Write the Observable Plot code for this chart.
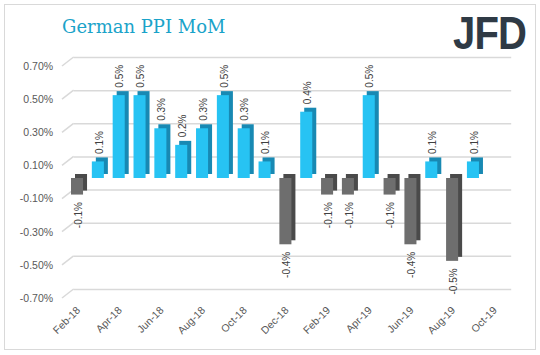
<!DOCTYPE html>
<html><head><meta charset="utf-8">
<script src="https://cdn.jsdelivr.net/npm/d3@7"></script>
<script src="https://cdn.jsdelivr.net/npm/@observablehq/plot@0.6"></script>
<style>
body{margin:0;background:#fff;}
#wrap{position:relative;width:540px;height:355px;overflow:hidden;font-family:"Liberation Sans",Arial,sans-serif;}
#frame{position:absolute;left:4px;top:4px;width:530px;height:344px;border:1px solid #d9d9d9;}
#title{position:absolute;left:62px;top:16px;font-family:"DejaVu Serif",serif;font-size:18px;color:#1aa3c9;white-space:nowrap;}
#logo{position:absolute;left:453px;top:6px;font-family:"Liberation Sans",Arial,sans-serif;font-weight:bold;font-size:46px;color:#2f3a45;transform:scaleX(0.87);transform-origin:left top;letter-spacing:-1px;}
#chart{position:absolute;left:0;top:0;}
</style></head>
<body>
<div id="wrap">
  <div id="frame"></div>
  <div id="title">German PPI MoM</div>
  <div id="logo">JFD</div>
  <div id="chart"></div>
</div>
<script>
const months = ["Feb-18","Mar-18","Apr-18","May-18","Jun-18","Jul-18","Aug-18","Sep-18","Oct-18","Nov-18","Dec-18",
  "Jan-19","Feb-19","Mar-19","Apr-19","May-19","Jun-19","Jul-19","Aug-19","Sep-19","Oct-19"];
const values = [-0.1,0.1,0.5,0.5,0.3,0.2,0.3,0.5,0.3,0.1,-0.4,0.4,-0.1,-0.1,0.5,-0.1,-0.4,0.1,-0.5,0.1,null];
const yTicks = [-0.7,-0.5,-0.3,-0.1,0.1,0.3,0.5,0.7];
const xTickLabels = months.filter((d, i) => i % 2 === 0);

const data = months.map((m, i) => ({month: m, value: values[i]})).filter(d => d.value != null);
const pos = data.filter(d => d.value > 0);
const neg = data.filter(d => d.value < 0);

const inL = 3.4, inR = 5.4;

function slants(index, scales) {
  const g = d3.create("svg:g").attr("stroke", "#d9d9d9").attr("stroke-width", 1.5);
  for (const t of yTicks) {
    const yy = scales.y(t);
    g.append("line").attr("x1", 62).attr("y1", yy + 4).attr("x2", 73.6).attr("y2", yy - 5);
  }
  return g.node();
}

const chart = Plot.plot({
  width: 540, height: 355,
  marginLeft: 67.6, marginRight: 34.8, marginTop: 62, marginBottom: 61,
  x: {domain: months, padding: 0, round: false, label: null},
  y: {domain: [-0.7, 0.7], label: null},
  style: {fontFamily: "'Liberation Sans', Arial, sans-serif", fontSize: "10.5px", color: "#595959", background: "transparent", overflow: "visible"},
  marks: [
    Plot.ruleY(yTicks, {stroke: "#d9d9d9", strokeWidth: 1.5, dx: 6, dy: -5}),
    slants,
    Plot.axisY(yTicks, {tickSize: 0, tickPadding: 15, dy: 4, tickFormat: d => d.toFixed(2) + "%", fontSize: 10.5, label: null}),
    Plot.axisX(xTickLabels, {tickSize: 0, tickPadding: 14, tickRotate: -45, fontSize: 10.5, label: null}),
    Plot.barY(pos, {x: "month", y: "value", fill: "#1889b3", dx: 4, dy: -4, insetLeft: inL, insetRight: inR}),
    Plot.barY(neg, {x: "month", y: "value", fill: "#4a4a4a", dx: 4, dy: -4, insetLeft: inL, insetRight: inR}),
    Plot.barY(pos, {x: "month", y: "value", fill: "#27c3f3", insetLeft: inL, insetRight: inR}),
    Plot.barY(neg, {x: "month", y: "value", fill: "#6e6e6e", insetLeft: inL, insetRight: inR}),
    Plot.text(pos, {x: "month", y: "value", text: d => d.value.toFixed(1) + "%", rotate: -90, textAnchor: "start", dy: -8, fontSize: 10, fill: "#404040"}),
    Plot.text(neg, {x: "month", y: "value", text: d => d.value.toFixed(1) + "%", rotate: -90, textAnchor: "end", dy: 7, fontSize: 10, fill: "#404040"})
  ]
});
document.getElementById("chart").appendChild(chart);
</script>
</body></html>
